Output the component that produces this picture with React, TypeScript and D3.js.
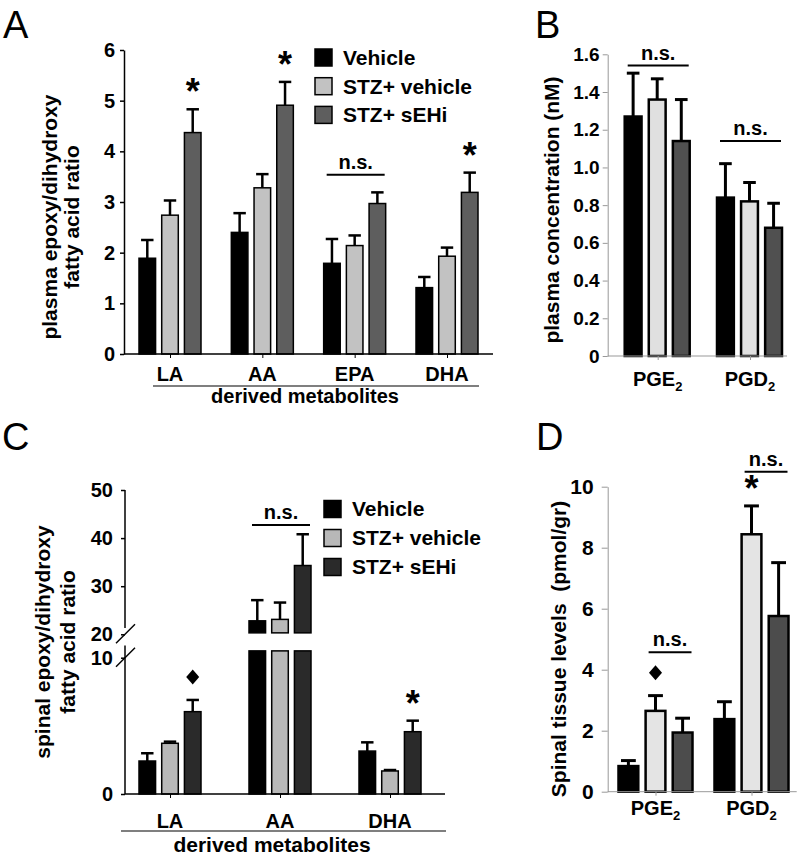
import React, { useEffect, useRef } from "react";
import * as d3 from "d3";

const seriesNames = ["Vehicle", "STZ+ vehicle", "STZ+ sEHi"];

// A - plasma epoxy/dihydroxy fatty acid ratio
const plasmaFaCats = ["LA", "AA", "EPA", "DHA"];
const plasmaFaMean = [
  [1.89, 2.74, 4.37],
  [2.4, 3.28, 4.91],
  [1.79, 2.14, 2.97],
  [1.31, 1.93, 3.19],
];
const plasmaFaSem = [
  [0.36, 0.29, 0.46],
  [0.38, 0.27, 0.46],
  [0.48, 0.2, 0.22],
  [0.21, 0.17, 0.39],
];
const plasmaFaTicks = [0, 1, 2, 3, 4, 5, 6];
const plasmaFaStars = [[0, 2], [1, 2], [3, 2]];
const plasmaFaNs = [{ cat: 2, from: 0, to: 2, at: 3.54 }];

// B - plasma prostaglandins (nM)
const pgCats = ["PGE", "PGD"]; // subscript 2 added when drawn
const plasmaPgMean = [
  [1.27, 1.36, 1.14],
  [0.84, 0.82, 0.68],
];
const plasmaPgSem = [
  [0.23, 0.11, 0.22],
  [0.18, 0.1, 0.13],
];
const plasmaPgTicks = [0, 0.2, 0.4, 0.6, 0.8, 1.0, 1.2, 1.4, 1.6];
const plasmaPgNs = [
  { cat: 0, from: 0, to: 2, at: 1.54 },
  { cat: 1, from: 0, to: 2, at: 1.14 },
];

// C - spinal epoxy/dihydroxy ratio, broken axis
const spinalFaCats = ["LA", "AA", "DHA"];
const spinalFaMean = [
  [2.42, 3.72, 6.04],
  [22.8, 23.1, 34.3],
  [3.15, 1.69, 4.57],
];
const spinalFaSem = [
  [0.57, 0.12, 0.86],
  [4.3, 3.5, 6.5],
  [0.64, 0.07, 0.81],
];
const spinalLowTicks = [0, 10];
const spinalHighTicks = [20, 30, 40, 50];
const spinalFaStars = [[2, 2]];
const spinalFaDiamonds = [[0, 2]];
const spinalFaNs = [{ cat: 1, from: 0, to: 2, at: 42.7 }];

// D - spinal prostaglandins (pmol/gr)
const spinalPgMean = [
  [0.84, 2.65, 1.94],
  [2.38, 8.44, 5.76],
];
const spinalPgSem = [
  [0.18, 0.5, 0.47],
  [0.57, 0.93, 1.75],
];
const spinalPgTicks = [0, 2, 4, 6, 8, 10];
const spinalPgStars = [[1, 1]];
const spinalPgDiamonds = [[0, 1]];
const spinalPgNs = [
  { cat: 0, from: 1, to: 2, at: 4.57 },
  { cat: 1, from: 1, to: 2, at: 10.49 },
];

const FONT = "'Liberation Sans', Arial, Helvetica, sans-serif";

type Sel = d3.Selection<SVGGElement, unknown, null, undefined>;

function yAxis(g: Sel, scale: any, x: number, ticks: number[], fmt: (d: any) => string, color: string, sw: number, size: number, pad: number, fs: number) {
  const ax = g.append("g").attr("transform", `translate(${x},0)`)
    .call(d3.axisLeft(scale).tickValues(ticks).tickFormat(fmt).tickSize(size).tickSizeOuter(0).tickPadding(pad) as any);
  ax.select(".domain").attr("stroke", color).attr("stroke-width", sw);
  ax.selectAll(".tick line").attr("stroke", color).attr("stroke-width", sw);
  ax.selectAll(".tick text").attr("fill", "#000").attr("font-size", fs).attr("font-weight", "bold").attr("font-family", FONT);
  return ax;
}

function xAxis(g: Sel, xc: any, y0: number, x0: number, x1: number, color: string, sw: number) {
  const ax = g.append("g").attr("transform", `translate(0,${y0})`)
    .call(d3.axisBottom(xc).tickSize(4).tickSizeOuter(0).tickFormat(() => "") as any);
  ax.select(".domain").remove();
  ax.selectAll(".tick line").attr("stroke", color).attr("stroke-width", 1);
  g.append("line").attr("x1", x0).attr("x2", x1).attr("y1", y0).attr("y2", y0)
    .attr("stroke", color).attr("stroke-width", sw);
}

function groups(g: Sel, o: any) {
  const bw = o.xi.bandwidth();
  o.mean.forEach((row: number[], ci: number) => row.forEach((v: number, si: number) => {
    const x = o.xc(o.cats[ci]) + o.xi(seriesNames[si]);
    const cx = x + bw / 2;
    const top = o.y(v + o.sem[ci][si]);
    const capW = bw * 0.75;
    g.append("line").attr("x1", cx).attr("x2", cx).attr("y1", o.y(v)).attr("y2", top)
      .attr("stroke", "#000").attr("stroke-width", o.errW);
    g.append("line").attr("x1", cx - capW / 2).attr("x2", cx + capW / 2).attr("y1", top).attr("y2", top)
      .attr("stroke", "#000").attr("stroke-width", o.errW);
    const pieces: [number, number][] = o.split && v > o.split.hi
      ? [[o.y(v), o.y(o.split.hiStart)], [o.y(o.split.loEnd), o.y(0)]]
      : [[o.y(v), o.y(0)]];
    pieces.forEach(([a, b]) => {
      g.append("rect").attr("x", x).attr("y", a).attr("width", bw).attr("height", b - a)
        .attr("fill", o.colors[si]).attr("stroke", "#000").attr("stroke-width", o.barW);
    });
  }));
}

function marks(g: Sel, o: any, stars: number[][], diamonds: number[][]) {
  const bw = o.xi.bandwidth();
  const pos = ([ci, si]: number[]) => ({
    cx: o.xc(o.cats[ci]) + o.xi(seriesNames[si]) + bw / 2,
    cy: o.y(o.mean[ci][si] + o.sem[ci][si]) - 23,
  });
  stars.forEach((m) => {
    const p = pos(m);
    g.append("text").attr("x", p.cx).attr("y", p.cy + 18).attr("text-anchor", "middle")
      .attr("font-size", 36).attr("font-weight", "bold").attr("font-family", FONT).text("*");
  });
  diamonds.forEach((m) => {
    const p = pos(m);
    g.append("path").attr("d", `M${p.cx},${p.cy - 7.5}L${p.cx + 6.5},${p.cy}L${p.cx},${p.cy + 7.5}L${p.cx - 6.5},${p.cy}Z`)
      .attr("fill", "#000");
  });
}

function nsBars(g: Sel, o: any, list: { cat: number; from: number; to: number; at: number }[]) {
  const bw = o.xi.bandwidth();
  list.forEach((n) => {
    const base = o.xc(o.cats[n.cat]);
    const a = base + o.xi(seriesNames[n.from]) + 3;
    const b = base + o.xi(seriesNames[n.to]) + bw - 1;
    const yy = o.y(n.at);
    g.append("line").attr("x1", a).attr("x2", b).attr("y1", yy).attr("y2", yy)
      .attr("stroke", "#000").attr("stroke-width", 2);
    g.append("text").attr("x", (a + b) / 2).attr("y", yy - 6).attr("text-anchor", "middle")
      .attr("font-size", 20).attr("font-weight", "bold").attr("font-family", FONT).text("n.s.");
  });
}

function catLabels(g: Sel, cats: string[], xc: any, y: number, sub: boolean) {
  cats.forEach((c) => {
    const t = g.append("text").attr("x", xc(c)).attr("y", y).attr("text-anchor", "middle")
      .attr("font-size", 20).attr("font-weight", "bold").attr("font-family", FONT).text(c);
    if (sub) t.append("tspan").attr("font-size", 13).attr("dy", 5).text("2");
  });
}

function yLabel(g: Sel, lines: string[], xs: number[], cy: number) {
  lines.forEach((l, i) => {
    g.append("text").attr("transform", `translate(${xs[i]},${cy}) rotate(-90)`)
      .attr("text-anchor", "middle").attr("dy", "0.35em")
      .style("white-space", "pre")
      .attr("font-size", 21).attr("font-weight", "bold").attr("font-family", FONT).text(l);
  });
}

function legend(g: Sel, x: number, y0: number, step: number, colors: string[]) {
  seriesNames.forEach((s, i) => {
    const cy = y0 + i * step;
    g.append("rect").attr("x", x).attr("y", cy - 8.5).attr("width", 17).attr("height", 17)
      .attr("fill", colors[i]).attr("stroke", "#000").attr("stroke-width", 1.5);
    g.append("text").attr("x", x + 28).attr("y", cy).attr("dy", "0.35em")
      .attr("font-size", 21).attr("font-weight", "bold").attr("font-family", FONT).text(s);
  });
}

function panelLetter(g: Sel, t: string, x: number, y: number) {
  g.append("text").attr("x", x).attr("y", y).attr("font-size", 38).attr("font-family", FONT).text(t);
}

export default function App() {
  const ref = useRef<SVGSVGElement>(null);

  useEffect(() => {
    const svg = d3.select(ref.current);
    svg.selectAll("*").remove();
    const root = svg.append("g") as unknown as Sel;

    /* ---------- A ---------- */
    const gA = root.append("g") as Sel;
    const yA = d3.scaleLinear().domain([0, 6]).range([354, 50]);
    const xA = d3.scalePoint().domain(plasmaFaCats).range([170, 447]);
    const iA = d3.scaleBand().domain(seriesNames).range([-31, 31]).paddingInner(0.27);
    const oA = { cats: plasmaFaCats, mean: plasmaFaMean, sem: plasmaFaSem, xc: xA, xi: iA, y: yA,
      colors: ["#000", "#c2c2c2", "#5e5e5e"], barW: 1.5, errW: 2.5 };
    groups(gA, oA);
    yAxis(gA, yA, 124, plasmaFaTicks, (d) => String(d), "#000", 1.5, 4, 5, 20);
    xAxis(gA, xA, 354, 124, 493, "#000", 1.5);
    marks(gA, oA, plasmaFaStars, []);
    nsBars(gA, oA, plasmaFaNs);
    catLabels(gA, plasmaFaCats, xA, 381, false);
    gA.append("line").attr("x1", 153).attr("x2", 479).attr("y1", 386).attr("y2", 386).attr("stroke", "#000").attr("stroke-width", 1.2);
    gA.append("text").attr("x", 305).attr("y", 403).attr("text-anchor", "middle").attr("font-size", 20)
      .attr("font-weight", "bold").attr("font-family", FONT).text("derived metabolites");
    yLabel(gA, ["plasma epoxy/dihydroxy", "fatty acid ratio"], [50, 72], 217);
    legend(gA, 315, 57.5, 28.7, oA.colors);
    panelLetter(gA, "A", 3, 38);

    /* ---------- B ---------- */
    const gB = root.append("g") as Sel;
    const yB = d3.scaleLinear().domain([0, 1.6]).range([356, 54.3]);
    const xB = d3.scalePoint().domain(pgCats).range([657.7, 750]);
    const iB = d3.scaleBand().domain(seriesNames).range([-33, 32]).paddingInner(0.3);
    const oB = { cats: pgCats, mean: plasmaPgMean, sem: plasmaPgSem, xc: xB, xi: iB, y: yB,
      colors: ["#000", "#e0e0e0", "#505050"], barW: 2.5, errW: 3 };
    groups(gB, oB);
    yAxis(gB, yB, 607.7, plasmaPgTicks, (d) => (d === 0 ? "0" : d3.format(".1f")(d)), "#999", 1, 5, 3, 19);
    xAxis(gB, xB, 356, 607.7, 787, "#999", 1);
    nsBars(gB, oB, plasmaPgNs);
    catLabels(gB, pgCats, xB, 386, true);
    yLabel(gB, ["plasma concentration (nM)"], [552], 210);
    panelLetter(gB, "B", 535, 38);

    /* ---------- C ---------- */
    const gC = root.append("g") as Sel;
    const yLow = d3.scaleLinear().domain([0, 10]).range([794, 657.7]);
    const yHigh = d3.scaleLinear().domain([20, 50]).range([634.3, 490]);
    const yC = (v: number) => (v <= 15 ? yLow(v) : yHigh(v));
    const xC = d3.scalePoint().domain(spinalFaCats).range([170, 390]);
    const iC = d3.scaleBand().domain(seriesNames).range([-31, 31]).paddingInner(0.27);
    const oC = { cats: spinalFaCats, mean: spinalFaMean, sem: spinalFaSem, xc: xC, xi: iC, y: yC,
      colors: ["#000", "#b8b8b8", "#2a2a2a"], barW: 1.5, errW: 2.5,
      split: { hi: 15, hiStart: 20.3, loEnd: 10.5 } };
    groups(gC, oC);
    const axLow = yAxis(gC, yLow, 125, spinalLowTicks, (d) => String(d), "#000", 1.5, 4, 8, 20);
    axLow.select(".domain").remove();
    const axHigh = yAxis(gC, yHigh, 125, spinalHighTicks, (d) => String(d), "#000", 1.5, 4, 8, 20);
    axHigh.select(".domain").remove();
    gC.append("line").attr("x1", 125).attr("x2", 125).attr("y1", 490).attr("y2", yHigh(21.3)).attr("stroke", "#000").attr("stroke-width", 1.5);
    gC.append("line").attr("x1", 125).attr("x2", 125).attr("y1", yLow(10.9)).attr("y2", 794).attr("stroke", "#000").attr("stroke-width", 1.5);
    [yHigh(20), yLow(10)].forEach((yy) => {
      gC.append("line").attr("x1", 116).attr("y1", yy + 9).attr("x2", 135).attr("y2", yy - 10)
        .attr("stroke", "#000").attr("stroke-width", 1.5);
    });
    xAxis(gC, xC, 794, 125, 445, "#000", 1.5);
    marks(gC, oC, spinalFaStars, spinalFaDiamonds);
    nsBars(gC, oC, spinalFaNs);
    catLabels(gC, spinalFaCats, xC, 828, false);
    gC.append("line").attr("x1", 121).attr("x2", 446).attr("y1", 831).attr("y2", 831).attr("stroke", "#000").attr("stroke-width", 1.2);
    gC.append("text").attr("x", 272).attr("y", 852).attr("text-anchor", "middle").attr("font-size", 21)
      .attr("font-weight", "bold").attr("font-family", FONT).text("derived metabolites");
    yLabel(gC, ["spinal epoxy/dihydroxy", "fatty acid ratio"], [43, 68], 642);
    legend(gC, 324, 509, 29, oC.colors);
    panelLetter(gC, "C", 2, 450);

    /* ---------- D ---------- */
    const gD = root.append("g") as Sel;
    const yD = d3.scaleLinear().domain([0, 10]).range([791.7, 486.7]);
    const xD = d3.scalePoint().domain(pgCats).range([655.5, 751.5]);
    const iD = d3.scaleBand().domain(seriesNames).range([-37, 37]).paddingInner(0.27);
    const oD = { cats: pgCats, mean: spinalPgMean, sem: spinalPgSem, xc: xD, xi: iD, y: yD,
      colors: ["#000", "#e4e4e4", "#4c4c4c"], barW: 2.5, errW: 3 };
    groups(gD, oD);
    yAxis(gD, yD, 607.7, spinalPgTicks, (d) => String(d), "#999", 1, 6, 8, 21);
    xAxis(gD, xD, 791.7, 607.7, 796.7, "#999", 1);
    marks(gD, oD, spinalPgStars, spinalPgDiamonds);
    nsBars(gD, oD, spinalPgNs);
    catLabels(gD, pgCats, xD, 815, true);
    yLabel(gD, ["Spinal tissue levels  (pmol/gr)"], [559], 649);
    panelLetter(gD, "D", 536, 450);
  }, []);

  return (
    <svg ref={ref} width={798} height={858}
      style={{ position: "absolute", left: 0, top: 0, background: "#fff" }} />
  );
}
